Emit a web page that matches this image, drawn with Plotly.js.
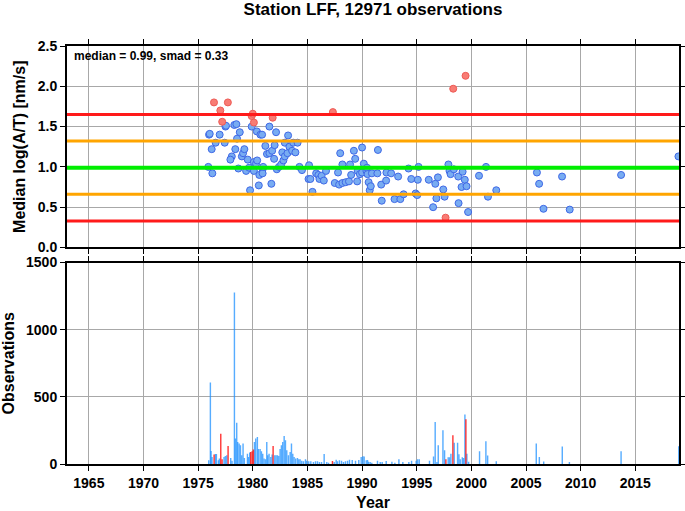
<!DOCTYPE html>
<html>
<head>
<meta charset="utf-8">
<script src="https://cdn.plot.ly/plotly-3.0.1.min.js"></script>
<style>html,body{margin:0;padding:0;background:#fff}#chart{width:685px;height:511px}</style>
</head>
<body>
<div id="chart"></div>
<script>
// ---- data ----
const stationTitle = "Station LFF, 12971 observations";
const median = 0.99;
const smad = 0.33;

const blueYears = [1975.93,1976.0,1976.06,1976.24,1976.3,1976.6,1976.97,1977.43,1977.5,1977.55,1978.08,1977.95,1978.31,1978.5,1978.81,1978.56,1978.4,1978.68,1979.0,1979.11,1979.23,1979.39,1979.54,1979.66,1979.75,1979.9,1980.1,1980.1,1980.37,1980.3,1980.4,1980.55,1980.6,1980.7,1980.85,1980.9,1980.9,1980.95,1981.15,1981.3,1981.52,1981.52,1981.7,1981.77,1981.95,1982.0,1982.13,1982.2,1982.4,1982.6,1982.7,1982.8,1982.93,1982.93,1983.17,1983.23,1983.35,1983.6,1983.7,1983.9,1984.1,1984.27,1984.5,1985.1,1985.15,1985.27,1985.46,1985.8,1986.0,1986.1,1986.3,1986.5,1986.7,1987.5,1987.8,1987.9,1988.0,1988.2,1988.2,1988.5,1988.8,1988.9,1989.0,1989.25,1989.37,1989.55,1989.6,1989.8,1990.0,1990.0,1990.16,1990.4,1990.45,1990.5,1990.6,1990.7,1990.8,1990.9,1991.4,1991.45,1991.75,1991.8,1992.2,1992.23,1992.66,1992.97,1993.3,1993.5,1993.8,1994.25,1994.5,1994.9,1995.05,1995.1,1995.17,1996.1,1996.5,1996.7,1996.8,1996.94,1997.43,1997.55,1997.9,1998.0,1998.1,1998.4,1998.8,1998.83,1999.1,1999.2,1999.4,1999.56,1999.7,2000.7,2001.34,2001.52,2002.28,2006.0,2006.2,2006.6,2008.3,2009.0,2013.7,2018.95];
const blueMedians = [1.00,1.40,1.41,1.22,0.92,1.30,1.40,1.30,1.50,1.51,1.13,1.09,1.52,1.53,1.43,1.35,1.22,0.98,1.13,1.17,1.22,0.95,1.09,0.99,0.71,1.50,1.06,0.95,1.44,1.04,1.08,0.77,0.90,1.40,1.40,0.97,0.92,1.00,1.26,1.16,1.50,1.17,0.79,1.20,1.10,1.27,1.43,0.97,1.00,1.03,1.18,1.08,1.13,1.30,1.17,1.39,1.25,1.20,1.30,1.18,1.30,1.00,0.96,0.85,1.02,0.85,0.69,0.92,0.90,0.85,0.89,0.83,0.95,0.80,0.93,0.78,1.17,1.03,0.80,0.81,0.82,1.03,0.90,1.20,1.10,0.82,0.95,0.91,1.24,0.93,1.04,0.95,0.99,0.91,0.81,0.71,0.76,0.92,0.92,1.21,0.78,0.58,0.83,0.93,0.92,0.60,0.88,0.60,0.66,0.98,0.85,0.67,0.65,0.84,1.00,0.84,0.50,0.79,0.61,0.87,0.72,0.63,1.03,0.95,0.91,0.97,0.88,0.55,0.75,0.94,0.84,0.76,0.44,0.89,1.00,0.63,0.71,0.93,0.79,0.48,0.88,0.47,0.90,1.13];

const redYears = [1976.45,1977.72,1977.03,1977.2,1979.9,1980.0,1980.1,1981.82,1987.33,1998.34,1999.47,1997.64];
const redMedians = [1.80,1.80,1.70,1.56,1.63,1.66,1.55,1.61,1.68,1.97,2.13,0.37];

const blueBarYears = [1975.97,1976.12,1976.18,1976.27,1976.58,1976.67,1976.85,1976.94,1977.37,1977.49,1977.62,1977.98,1978.10,1978.32,1978.41,1978.53,1978.62,1978.75,1978.87,1978.99,1979.11,1979.23,1979.51,1979.60,1979.72,1980.15,1980.27,1980.42,1980.52,1980.67,1980.79,1980.91,1981.03,1981.16,1981.28,1981.37,1981.49,1981.65,1981.77,1982.01,1982.13,1982.26,1982.38,1982.50,1982.62,1982.74,1982.87,1982.99,1983.11,1983.26,1983.42,1983.54,1983.66,1983.78,1983.93,1984.09,1984.21,1984.33,1984.48,1984.64,1984.82,1984.94,1985.12,1985.31,1985.55,1985.74,1985.92,1986.10,1986.29,1986.53,1986.77,1986.93,1987.45,1987.63,1987.75,1987.93,1988.12,1988.30,1988.48,1988.67,1988.85,1989.1,1989.4,1989.7,1989.92,1990.07,1990.19,1990.38,1990.50,1990.59,1990.74,1990.89,1991.41,1991.66,1991.84,1992.21,1992.73,1993.00,1993.37,1993.73,1994.28,1994.53,1994.95,1995.08,1995.23,1996.17,1996.54,1996.69,1996.85,1996.97,1997.40,1997.55,1997.88,1998.01,1998.13,1998.43,1998.74,1998.86,1998.98,1999.17,1999.29,1999.41,1999.59,1999.75,2000.75,2001.33,2001.49,2002.28,2005.94,2006.22,2006.62,2008.32,2008.97,2013.70,2018.98];
const blueBarCounts = [27,606,97,52,75,75,27,40,52,60,65,45,25,1277,189,308,164,152,139,65,152,45,77,52,85,164,189,201,112,112,95,77,40,35,164,65,77,52,70,65,65,65,60,112,139,164,209,176,102,65,90,152,77,52,40,45,35,35,25,20,35,25,20,20,15,20,20,15,15,75,15,10,15,32,20,27,25,15,20,25,32,30,25,30,52,57,55,27,30,17,15,10,25,15,15,22,17,10,35,15,15,25,25,35,35,25,55,313,15,139,251,102,50,50,77,159,159,72,35,50,45,368,77,17,95,169,63,20,152,52,18,130,15,95,132];

const redBarYears = [1976.46,1977.07,1977.19,1977.74,1979.81,1979.94,1980.06,1981.86,1987.29,1997.67,1998.31,1999.50];
const redBarCounts = [70,226,35,134,90,95,107,134,22,35,214,333];

const yearRange = [1963, 2019];
const medianRange = [0, 2.5];
const countRange = [0, 1500];

// ---- chart ----
const FONT = 'Liberation Sans, Arial, Helvetica, sans-serif';

const traces = [
  {type:'scatter', mode:'markers', x:blueYears, y:blueMedians, xaxis:'x', yaxis:'y',
   marker:{size:7, color:'#78acf2', line:{color:'#3f68e6', width:1}}, hoverinfo:'x+y'},
  {type:'scatter', mode:'markers', x:redYears, y:redMedians, xaxis:'x', yaxis:'y',
   marker:{size:7, color:'#f87c74', line:{color:'#ee5a55', width:1}}, hoverinfo:'x+y'},
  {type:'bar', x:blueBarYears, y:blueBarCounts, xaxis:'x2', yaxis:'y2', width:0.13,
   marker:{color:'rgba(30,144,255,0.75)', line:{width:0}}},
  {type:'bar', x:redBarYears, y:redBarCounts, xaxis:'x2', yaxis:'y2', width:0.13,
   marker:{color:'rgba(255,20,20,0.85)', line:{width:0}}}
];

function hline(v, color, w){
  return {type:'line', xref:'x domain', yref:'y', x0:0, x1:1, y0:v, y1:v,
          line:{color:color, width:w}, layer:'above'};
}

const axisCommon = {
  showline:true, linecolor:'#000', linewidth:2, mirror:'ticks',
  ticks:'outside', ticklen:5, tickwidth:1, tickcolor:'#000',
  showgrid:true, gridcolor:'#a8a8a8', gridwidth:1, zeroline:false,
  tickfont:{family:FONT, size:14, color:'#000', weight:'bold'}, fixedrange:true
};

const layout = {
  width:685, height:511,
  margin:{l:67, r:6, t:46, b:47, pad:0},
  paper_bgcolor:'#fff', plot_bgcolor:'#fff',
  showlegend:false, barmode:'overlay',
  title:{text:'<b>'+stationTitle+'</b>', font:{family:FONT, size:17, color:'#000'},
         x:0.5, xref:'paper', xanchor:'center', y:0.982, yref:'container', yanchor:'middle'},
  xaxis:Object.assign({}, axisCommon, {anchor:'y', range:yearRange, tick0:1965, dtick:5, showticklabels:false}),
  yaxis:Object.assign({}, axisCommon, {anchor:'x', domain:[0.518,1], range:medianRange, dtick:0.5, tickformat:'.1f',
         title:{text:'<b>Median log(A/T) [nm/s]</b>', font:{family:FONT, size:16, color:'#000'}, standoff:8}}),
  xaxis2:Object.assign({}, axisCommon, {anchor:'y2', range:yearRange, tick0:1965, dtick:5,
         title:{text:'<b>Year</b>', font:{family:FONT, size:16, color:'#000'}, standoff:8}}),
  yaxis2:Object.assign({}, axisCommon, {anchor:'x2', domain:[0,0.482], range:countRange, dtick:500,
         title:{text:'<b>Observations</b>', font:{family:FONT, size:16, color:'#000'}, standoff:8}}),
  shapes:[
    hline(median + 2*smad, '#ff1a1a', 3),
    hline(median + smad, '#ffa500', 3),
    hline(median, '#00ee00', 4),
    hline(median - smad, '#ffa500', 3),
    hline(median - 2*smad, '#ff1a1a', 3)
  ],
  annotations:[
    {text:'<b>median = '+median.toFixed(2)+', smad = '+smad.toFixed(2)+'</b>',
     xref:'x domain', yref:'y domain', x:0.008, y:0.995, xanchor:'left', yanchor:'top',
     showarrow:false, font:{family:FONT, size:12, color:'#000'}}
  ]
};

Plotly.newPlot('chart', traces, layout, {staticPlot:true, displayModeBar:false});
</script>
</body>
</html>
